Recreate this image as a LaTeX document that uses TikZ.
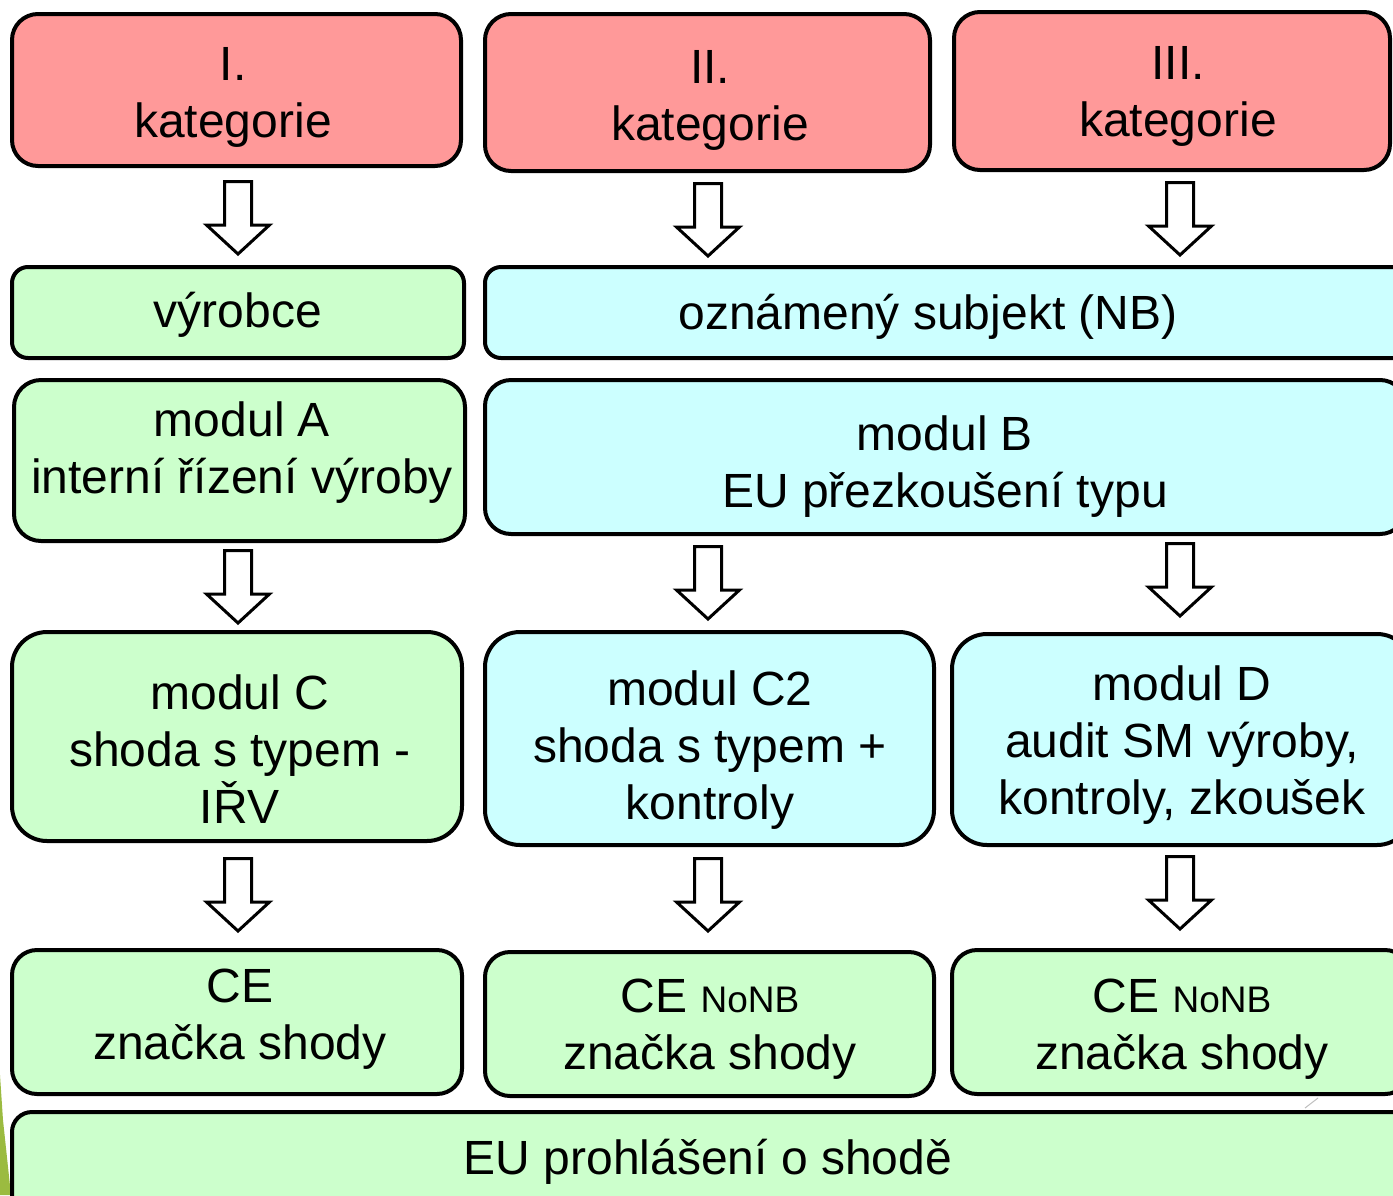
\documentclass[tikz,border=0pt]{standalone}
\usepackage{fontspec}
\setmainfont{Liberation Sans}
\definecolor{cred}{HTML}{FF9999}
\definecolor{cgreen}{HTML}{CCFFCC}
\definecolor{ccyan}{HTML}{CCFFFF}
\definecolor{sliver}{HTML}{9BBB40}
\newcommand\nonb{{\fontsize{37}{44}\selectfont NoNB}}
\begin{document}
\begin{tikzpicture}[x=1pt,y=-1pt,
  box/.style={draw=black, line width=4pt, inner sep=0pt, outer sep=0pt},
  txt/.style={font=\fontsize{48}{57}\selectfont, align=center, inner sep=0pt},
  blockarrow/.pic={\draw[line width=3pt, fill=white, line join=miter]
     (-13.5,1.5) -- (13.5,1.5) -- (13.5,45) -- (31.5,45) -- (0,74) -- (-31.5,45) -- (-13.5,45) -- cycle;}
]
\useasboundingbox (0,0) rectangle (1393,1195);
\clip (0,0) rectangle (1393,1195);
\fill[white] (0,0) rectangle (1393,1195);
\fill[sliver] (0,1075) -- (3,1120) -- (11,1195) -- (0,1195) -- cycle;
\draw[gray!50, line width=1pt] (1305,1108) -- (1318,1098);

% row 1
\node[box, fill=cred, minimum width=449pt, minimum height=152pt, rounded corners=26pt] (k1) at (236.5,90) {};
\node[box, fill=cred, minimum width=445pt, minimum height=157pt, rounded corners=26pt] (k2) at (707.5,92.5) {};
\node[box, fill=cred, minimum width=436pt, minimum height=158pt, rounded corners=26pt] (k3) at (1172,91) {};
\node[txt] (tk1) at (233,97) {I.\\kategorie};
\node[txt] (tk2) at (710,100) {II.\\kategorie};
\node[txt] (tk3) at (1178,96) {III.\\kategorie};

% row 2
\node[box, fill=cgreen, minimum width=452pt, minimum height=91pt, rounded corners=16pt] (vyr) at (238,312.5) {};
\node[box, fill=ccyan, minimum width=935pt, minimum height=91pt, rounded corners=16pt] (nb) at (952.5,312.5) {};
\node[txt] (tvyr) at (238,315) {výrobce};
\node[txt] (tnb) at (928,317) {oznámený subjekt (NB)};

% row 3
\node[box, fill=cgreen, minimum width=451pt, minimum height=161pt, rounded corners=27pt] (ma) at (239.5,460.5) {};
\node[box, fill=ccyan, minimum width=921pt, minimum height=154pt, rounded corners=26pt] (mb) at (945.5,457) {};
\node[txt] (tma) at (242,453) {modul A\\interní řízení výroby};
\node[txt] (tmb) at (945,467) {modul B\\EU přezkoušení typu};

% row 4
\node[box, fill=cgreen, minimum width=450pt, minimum height=209pt, rounded corners=35pt] (mc) at (237,736.5) {};
\node[box, fill=ccyan, minimum width=449pt, minimum height=213pt, rounded corners=35pt] (mc2) at (709.5,738.5) {};
\node[box, fill=ccyan, minimum width=460pt, minimum height=211pt, rounded corners=35pt] (md) at (1182,739.5) {};
\node[txt] (tmc) at (240,749) {modul C\\shoda s typem -\\IŘV};
\node[txt] (tmc2) at (710,750) {modul C2\\shoda s typem +\\kontroly};
\node[txt] (tmd) at (1182,745) {modul D\\audit SM výroby,\\kontroly, zkoušek};

% row 5
\node[box, fill=cgreen, minimum width=450pt, minimum height=144pt, rounded corners=25pt] (ce1) at (237,1022) {};
\node[box, fill=cgreen, minimum width=449pt, minimum height=144pt, rounded corners=25pt] (ce2) at (709.5,1024) {};
\node[box, fill=cgreen, minimum width=458pt, minimum height=144pt, rounded corners=25pt] (ce3) at (1181,1022) {};
\node[txt] (tce1) at (240,1019) {CE\\značka shody};
\node[txt] (tce2) at (710,1029) {CE \nonb\\značka shody};
\node[txt] (tce3) at (1182,1029) {CE \nonb\\značka shody};

% row 6
\node[box, fill=cgreen, minimum width=1408pt, minimum height=118pt, rounded corners=20pt] (eu) at (716,1171) {};
\node[txt] (teu) at (708,1162) {EU prohlášení o shodě};

% block arrows
\pic (a11) at (238,180) {blockarrow};
\pic (a12) at (708,182) {blockarrow};
\pic (a13) at (1180,181) {blockarrow};
\pic (a31) at (238,549) {blockarrow};
\pic (a32) at (708,545) {blockarrow};
\pic (a33) at (1180,542) {blockarrow};
\pic (a41) at (238,857) {blockarrow};
\pic (a42) at (708,857) {blockarrow};
\pic (a43) at (1180,855) {blockarrow};
\end{tikzpicture}
\end{document}
